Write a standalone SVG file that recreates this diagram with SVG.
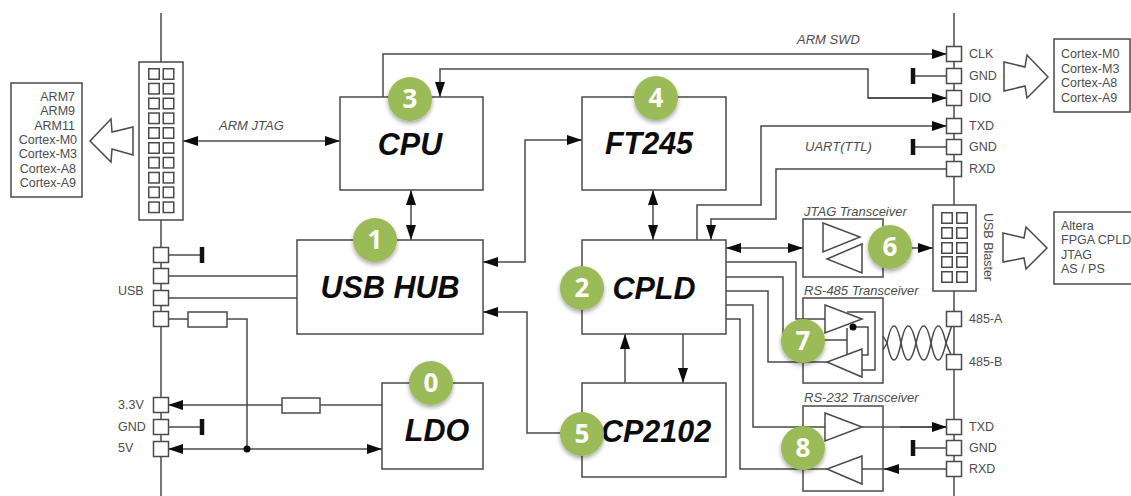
<svg xmlns="http://www.w3.org/2000/svg" width="1131" height="496" viewBox="0 0 1131 496">
<style>
text{font-family:"Liberation Sans",Arial,sans-serif;fill:#4d4d4d;font-size:12.5px}
.l,.c path,.c line{fill:none;stroke:#4a4a4a;stroke-width:1.5}
.b{fill:none;stroke:#4a4a4a;stroke-width:1.5}
.w{fill:#fff;stroke:#4a4a4a;stroke-width:1.5}
.t{font-weight:bold;font-style:italic;font-size:30.500px;fill:#0c0c0c;text-anchor:middle}
.i{font-style:italic;font-size:13px}
.r{text-anchor:end}
.n{fill:#9bbb59;filter:url(#sh)}
.d{font-family:"Open Sans","Liberation Sans",sans-serif;font-weight:bold;font-size:26px;fill:#fff;text-anchor:middle}
.ah{marker-end:url(#a)}
.bi{marker-start:url(#a);marker-end:url(#a)}
</style>
<defs>
<marker id="a" viewBox="0 0 15 10" refX="15" refY="5" markerUnits="userSpaceOnUse" markerWidth="15" markerHeight="10" orient="auto-start-reverse"><path d="M0 0L15 5L0 10z" fill="#0c0c0c"/></marker>
<filter id="sh" x="-30%" y="-30%" width="160%" height="170%"><feDropShadow dx="0" dy="2.5" stdDeviation="2" flood-color="#000" flood-opacity="0.35"/></filter>
<rect id="p" x="-7.5" y="-7.5" width="15" height="15" class="w"/>
<rect id="s" x="-5.25" y="-5.25" width="10.5" height="10.5" class="w"/>
</defs>

<g id="connectors" class="c">
<line x1="161" y1="13" x2="161" y2="496"/>
<line x1="954" y1="13" x2="954" y2="496"/>
<line x1="183" y1="141" x2="340" y2="141" class="bi"/>
<path d="M383 97V54H947" class="ah"/>
<path d="M947 98H868V69H440V97" style="marker-end:url(#a)"/>
<path d="M868 98H947" class="ah"/>
<line x1="411" y1="190" x2="411" y2="240" class="bi"/>
<path d="M483 262H525V140H582" class="bi"/>
<line x1="653" y1="190" x2="653" y2="240" class="bi"/>
<path d="M697 240V205H761V126H947" class="ah"/>
<path d="M947 169H776V219H711V240" class="ah"/>
<line x1="726" y1="248" x2="803" y2="248" class="bi"/>
<line x1="912" y1="248" x2="933" y2="248" class="ah"/>
<path d="M726 262H796V319H825"/>
<path d="M726 277H783V340H847"/>
<path d="M726 291H768V362H827"/>
<path d="M726 305H753V427H825"/>
<path d="M726 319H740V469H827"/>
<path d="M862 427H947"/>
<line x1="900" y1="427" x2="947" y2="427" class="ah"/>
<path d="M947 469H862"/>
<line x1="899" y1="469" x2="884" y2="469" class="ah"/>
<path d="M483 312H527V433H575" style="marker-start:url(#a)"/>
<line x1="625" y1="383" x2="625" y2="334" class="ah"/>
<line x1="683" y1="334" x2="683" y2="383" class="ah"/>
<line x1="382" y1="405" x2="168" y2="405" class="ah"/>
<line x1="168" y1="449" x2="382" y2="449" class="bi"/>
<path d="M168 319H247V449"/>
<circle cx="247" cy="449" r="3.500" fill="#0c0c0c"/>
<line x1="168" y1="276" x2="297" y2="276"/>
<line x1="168" y1="298" x2="297" y2="298"/>
<line x1="168" y1="255" x2="202" y2="255"/>
<line x1="168" y1="427" x2="202" y2="427"/>
<line x1="913" y1="76" x2="947" y2="76"/>
<line x1="913" y1="147" x2="947" y2="147"/>
<line x1="913" y1="448" x2="947" y2="448"/>
<path d="M883 336L887 343Q894 377 901 343T916 343T931 343T946 343L954 362"/>
<path d="M883 350L887 343Q894 309 901 343T916 343T931 343T946 343L954 319"/>
<path d="M847 312H875V370H862"/>
<path d="M853 327H868V355H862"/>
<path d="M847 328V355"/>
<circle cx="853" cy="327" r="3.500" fill="#0c0c0c"/>
<path d="M202 247V263M202 419V435M913 68V84M913 139V155M913 440V456" style="stroke:#111;stroke-width:4.500"/>
</g>

<g id="targets-arm">
<rect x="11" y="83" width="71" height="114" class="w"/>
<text class="r" x="75" y="101">ARM7</text>
<text class="r" x="75" y="115">ARM9</text>
<text class="r" x="75" y="130">ARM11</text>
<text class="r" x="77" y="144">Cortex-M0</text>
<text class="r" x="77" y="158">Cortex-M3</text>
<text class="r" x="76" y="173">Cortex-A8</text>
<text class="r" x="76" y="187">Cortex-A9</text>
<path class="b" d="M90 141L111 119L112 132L133 127V155L112 149L111 162Z"/>
</g>

<g id="jtag-connector">
<rect x="139" y="62" width="44" height="158" class="w"/>
<use href="#s" x="154" y="74"/><use href="#s" x="168.500" y="74"/>
<use href="#s" x="154" y="88.700"/><use href="#s" x="168.500" y="88.700"/>
<use href="#s" x="154" y="103.500"/><use href="#s" x="168.500" y="103.500"/>
<use href="#s" x="154" y="118.300"/><use href="#s" x="168.500" y="118.300"/>
<use href="#s" x="154" y="133"/><use href="#s" x="168.500" y="133"/>
<use href="#s" x="154" y="148"/><use href="#s" x="168.500" y="148"/>
<use href="#s" x="154" y="162.700"/><use href="#s" x="168.500" y="162.700"/>
<use href="#s" x="154" y="177.700"/><use href="#s" x="168.500" y="177.700"/>
<use href="#s" x="154" y="192.300"/><use href="#s" x="168.500" y="192.300"/>
<use href="#s" x="154" y="207.300"/><use href="#s" x="168.500" y="207.300"/>
</g>

<g id="left-pins">
<use href="#p" x="161" y="255"/><use href="#p" x="161" y="276"/><use href="#p" x="161" y="298"/><use href="#p" x="161" y="319"/>
<use href="#p" x="161" y="405"/><use href="#p" x="161" y="427"/><use href="#p" x="161" y="449"/>
<text x="118" y="295">USB</text>
<text x="118" y="409">3.3V</text>
<text x="118" y="431">GND</text>
<text x="118" y="452">5V</text>
</g>

<g id="right-pins">
<use href="#p" x="954" y="54"/><use href="#p" x="954" y="76"/><use href="#p" x="954" y="98"/>
<use href="#p" x="954" y="126"/><use href="#p" x="954" y="147"/><use href="#p" x="954" y="169"/>
<use href="#p" x="954" y="319"/><use href="#p" x="954" y="362"/>
<use href="#p" x="954" y="427"/><use href="#p" x="954" y="448"/><use href="#p" x="954" y="469"/>
<text x="969" y="58">CLK</text><text x="969" y="80">GND</text><text x="969" y="102">DIO</text>
<text x="969" y="130">TXD</text><text x="969" y="151">GND</text><text x="969" y="173">RXD</text>
<text x="969" y="323">485-A</text><text x="969" y="366">485-B</text>
<text x="969" y="431">TXD</text><text x="969" y="452">GND</text><text x="969" y="473">RXD</text>
</g>

<g id="fuses">
<rect x="188" y="312" width="39" height="15" class="w"/>
<rect x="282" y="398" width="38" height="15" class="w"/>
</g>

<g id="labels">
<text class="i" x="219" y="130">ARM JTAG</text>
<text class="i" x="797" y="44">ARM SWD</text>
<text class="i" x="805" y="151">UART(TTL)</text>
</g>

<g id="cpu"><rect x="340" y="97" width="143" height="93" class="b"/><text class="t" x="410" y="155">CPU</text></g>
<g id="ft245"><rect x="582" y="97" width="144" height="93" class="b"/><text class="t" x="649" y="154">FT245</text></g>
<g id="usb-hub"><rect x="297" y="240" width="186" height="94" class="b"/><text class="t" x="390" y="298">USB HUB</text></g>
<g id="cpld"><rect x="582" y="240" width="144" height="94" class="b"/><text class="t" x="654" y="299">CPLD</text></g>
<g id="ldo"><rect x="382" y="383" width="101" height="86" class="b"/><text class="t" x="437" y="441">LDO</text></g>
<g id="cp2102"><rect x="582" y="383" width="144" height="94" class="b"/><text class="t" x="656" y="442">CP2102</text></g>

<g id="jtag-transceiver">
<rect x="803" y="219" width="80" height="58" class="b"/>
<path class="b" d="M823 223L860 237L823 252ZM862 244L827 259L862 273Z"/>
<text class="i" x="804" y="216">JTAG Transceiver</text>
</g>
<g id="rs485-transceiver">
<rect x="803" y="298" width="80" height="85" class="b"/>
<path class="b" d="M825 305L862 319L825 333ZM862 349L827 362L862 377Z"/>
<text class="i" x="804" y="295">RS-485 Transceiver</text>
</g>
<g id="rs232-transceiver">
<rect x="803" y="406" width="80" height="85" class="b"/>
<path class="b" d="M825 413L862 427L825 441ZM862 456L827 469L862 484Z"/>
<text class="i" x="804" y="402">RS-232 Transceiver</text>
</g>

<g id="usb-blaster">
<rect x="933" y="205" width="43" height="86" class="w"/>
<use href="#s" x="947" y="218"/><use href="#s" x="962" y="218"/>
<use href="#s" x="947" y="233"/><use href="#s" x="962" y="233"/>
<use href="#s" x="947" y="248"/><use href="#s" x="962" y="248"/>
<use href="#s" x="947" y="262"/><use href="#s" x="962" y="262"/>
<use href="#s" x="947" y="277"/><use href="#s" x="962" y="277"/>
<text transform="translate(984 247) rotate(90)" text-anchor="middle">USB Blaster</text>
</g>

<g id="targets-swd">
<path class="b" d="M1004 62L1025 67L1027 55L1048 77L1027 98L1025 86L1004 91Z"/>
<rect x="1054" y="39" width="76" height="73" class="b"/>
<text x="1061" y="58">Cortex-M0</text><text x="1061" y="73">Cortex-M3</text><text x="1061" y="87">Cortex-A8</text><text x="1061" y="102">Cortex-A9</text>
</g>
<g id="targets-altera">
<path class="b" d="M1003 233L1024 238L1026 227L1047 248L1026 269L1024 258L1003 262Z"/>
<rect x="1054" y="212" width="80" height="72" class="b"/>
<text x="1061" y="230">Altera</text><text x="1061" y="244">FPGA CPLD</text><text x="1061" y="259">JTAG</text><text x="1061" y="273">AS / PS</text>
</g>

<g id="badge-0"><circle class="n" cx="431" cy="383" r="22"/><text class="d" x="431" y="392">0</text></g>
<g id="badge-1"><circle class="n" cx="375" cy="240" r="22"/><text class="d" x="375" y="249">1</text></g>
<g id="badge-2"><circle class="n" cx="582" cy="288" r="22"/><text class="d" x="582" y="297">2</text></g>
<g id="badge-3"><circle class="n" cx="410" cy="99" r="22"/><text class="d" x="410" y="108">3</text></g>
<g id="badge-4"><circle class="n" cx="656" cy="98" r="22"/><text class="d" x="656" y="107">4</text></g>
<g id="badge-5"><circle class="n" cx="582" cy="434" r="22"/><text class="d" x="582" y="443">5</text></g>
<g id="badge-6"><circle class="n" cx="890" cy="247" r="22"/><text class="d" x="890" y="256">6</text></g>
<g id="badge-7"><circle class="n" cx="803" cy="341" r="22"/><text class="d" x="803" y="350">7</text></g>
<g id="badge-8"><circle class="n" cx="803" cy="448" r="22"/><text class="d" x="803" y="457">8</text></g>
</svg>
